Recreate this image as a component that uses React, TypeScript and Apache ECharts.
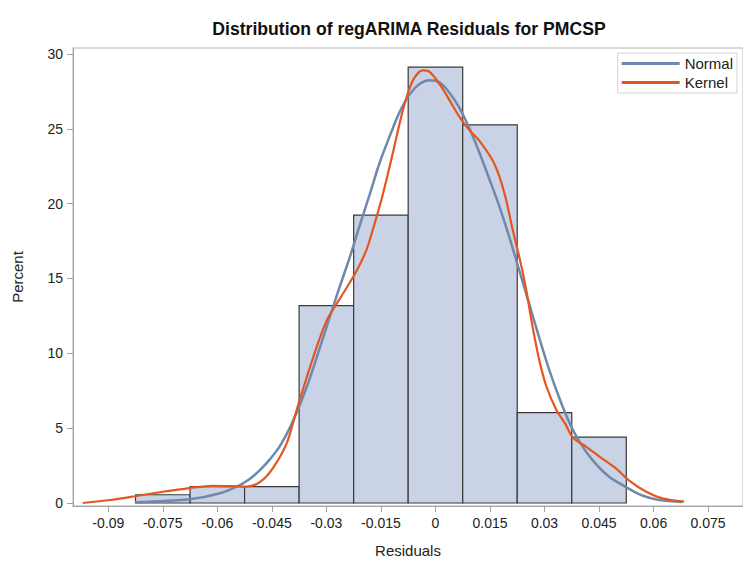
import React, { useEffect, useRef } from "react";
import * as echarts from "echarts";

// Histogram bins (midpoints) and percents
const binCenters = [-0.075, -0.06, -0.045, -0.03, -0.015, 0, 0.015, 0.03, 0.045];
const binPercents = [0.55, 1.1, 1.1, 13.19, 19.23, 29.12, 25.27, 6.04, 4.4];
const binWidth = 0.015;

// Axis ticks
const xTicks = [-0.09, -0.075, -0.06, -0.045, -0.03, -0.015, 0, 0.015, 0.03, 0.045, 0.06, 0.075];
const xTickLabels = ["-0.09", "-0.075", "-0.06", "-0.045", "-0.03", "-0.015", "0", "0.015", "0.03", "0.045", "0.06", "0.075"];
const yTicks = [0, 5, 10, 15, 20, 25, 30];

// Normal density curve
const normalX = [-0.0827, -0.0676, -0.0593, -0.0538, -0.0511, -0.0483, -0.0456, -0.0428, -0.0401, -0.0374, -0.0346, -0.0319, -0.0291, -0.0264, -0.0236, -0.0209, -0.0181, -0.0154, -0.0126, -0.0099, -0.0071, -0.0044, -0.0016, 0.0011, 0.0039, 0.0066, 0.0094, 0.0121, 0.0149, 0.0176, 0.0204, 0.0231, 0.0259, 0.0286, 0.0313, 0.0341, 0.0368, 0.0396, 0.0431, 0.0478, 0.0525, 0.0569, 0.0615, 0.0679];
const normalY = [0.05, 0.25, 0.65, 1.2, 1.6, 2.2, 2.9, 3.8, 5.0, 6.5, 8.3, 10.3, 12.4, 14.4, 16.4, 18.5, 20.6, 22.7, 24.5, 26.1, 27.3, 28.0, 28.25, 28.1, 27.4, 26.4, 25.0, 23.4, 21.6, 19.8, 17.7, 15.5, 13.2, 11.0, 8.9, 7.0, 5.4, 4.1, 2.9, 1.75, 1.05, 0.5, 0.2, 0.07];

// Kernel density curve
const kernelX = [-0.097, -0.0895, -0.0827, -0.075, -0.0676, -0.0613, -0.0557, -0.0519, -0.0483, -0.0448, -0.0409, -0.0382, -0.0354, -0.0327, -0.0299, -0.0272, -0.0244, -0.0217, -0.019, -0.0173, -0.0145, -0.0118, -0.009, -0.0063, -0.0035, -0.0016, 0.0011, 0.0039, 0.0066, 0.0094, 0.0121, 0.0157, 0.0176, 0.0195, 0.0212, 0.0231, 0.025, 0.0267, 0.0286, 0.0305, 0.0333, 0.0357, 0.0377, 0.0415, 0.0451, 0.0497, 0.0533, 0.058, 0.0624, 0.0684];
const kernelY = [0.0, 0.2, 0.45, 0.75, 1.0, 1.15, 1.13, 1.1, 1.4, 2.3, 4.0, 6.2, 8.4, 10.4, 12.2, 13.3, 14.4, 15.5, 16.9, 18.2, 20.6, 23.3, 26.2, 28.2, 28.9, 28.8, 28.0, 26.9, 25.8, 24.9, 24.2, 22.9, 21.8, 20.2, 18.3, 16.4, 14.2, 11.8, 9.5, 7.8, 6.2, 5.3, 4.4, 3.75, 3.1, 2.3, 1.5, 0.75, 0.31, 0.09];

const FONT = "'Liberation Sans', Arial, sans-serif";

export default function App() {
  const ref = useRef<HTMLDivElement>(null);
  useEffect(() => {
    if (!ref.current) return;
    const chart = echarts.init(ref.current, undefined, { renderer: "svg" });
    const histData = binCenters.map((c, i) => [c, binPercents[i]]);
    const normalData = normalX.map((x, i) => [x, normalY[i]]);
    const kernelData = kernelX.map((x, i) => [x, kernelY[i]]);
    chart.setOption({
      animation: false,
      backgroundColor: "#ffffff",
      textStyle: { fontFamily: FONT },
      title: {
        text: "Distribution of regARIMA Residuals for PMCSP",
        left: 409,
        textAlign: "center",
        top: 20,
        padding: 0,
        textStyle: { fontFamily: FONT, fontSize: 17.6, fontWeight: "bold", color: "#111" },
      },
      legend: {
        orient: "vertical",
        right: 6,
        top: 53,
        data: ["Normal", "Kernel"],
        icon: "rect",
        itemWidth: 58,
        itemHeight: 3,
        itemGap: 4,
        padding: [3, 4, 3, 4],
        borderColor: "#d4d4d4",
        borderWidth: 1,
        textStyle: { fontFamily: FONT, fontSize: 15, color: "#222" },
      },
      grid: {
        left: 73,
        top: 48,
        width: 671,
        height: 458,
        show: true,
        borderColor: "#b4b4b4",
        borderWidth: 1,
        containLabel: false,
      },
      xAxis: {
        type: "value",
        min: -0.0997,
        max: 0.0846,
        name: "Residuals",
        nameLocation: "middle",
        nameGap: 37,
        nameTextStyle: { fontFamily: FONT, fontSize: 15, color: "#222" },
        axisLine: { show: true, onZero: false, lineStyle: { color: "#a0a0a0" } },
        axisTick: { show: true, length: 6, lineStyle: { color: "#a0a0a0" }, customValues: xTicks },
        axisLabel: {
          customValues: xTicks,
          margin: 10,
          fontFamily: FONT,
          fontSize: 14,
          color: "#222",
          formatter: (v: number) => {
            const i = xTicks.findIndex((t) => Math.abs(t - v) < 1e-9);
            return i >= 0 ? xTickLabels[i] : "";
          },
        },
        splitLine: { show: false },
      },
      yAxis: {
        type: "value",
        min: -0.2,
        max: 30.4,
        name: "Percent",
        nameLocation: "middle",
        nameGap: 48,
        nameTextStyle: { fontFamily: FONT, fontSize: 15, color: "#222" },
        axisLine: { show: true, onZero: false, lineStyle: { color: "#a0a0a0" } },
        axisTick: { show: true, length: 6, lineStyle: { color: "#a0a0a0" }, customValues: yTicks },
        axisLabel: {
          customValues: yTicks,
          margin: 10,
          fontFamily: FONT,
          fontSize: 14,
          color: "#222",
        },
        splitLine: { show: false },
      },
      series: [
        {
          type: "custom",
          name: "hist",
          data: histData,
          encode: { x: 0, y: 1 },
          renderItem: (_params: any, api: any) => {
            const c = api.value(0);
            const h = api.value(1);
            const p0 = api.coord([c - binWidth / 2, h]);
            const p1 = api.coord([c + binWidth / 2, 0]);
            return {
              type: "rect",
              shape: { x: p0[0], y: p0[1], width: p1[0] - p0[0], height: p1[1] - p0[1] },
              style: { fill: "#c9d3e5", stroke: "#3a3a3a", lineWidth: 1.2 },
            };
          },
          z: 1,
        },
        {
          type: "line",
          name: "Normal",
          data: normalData,
          smooth: 0.3,
          showSymbol: false,
          symbol: "none",
          lineStyle: { color: "#6f88ab", width: 2.5 },
          itemStyle: { color: "#6f88ab" },
          z: 3,
        },
        {
          type: "line",
          name: "Kernel",
          data: kernelData,
          smooth: 0.3,
          showSymbol: false,
          symbol: "none",
          lineStyle: { color: "#e4561f", width: 2.2 },
          itemStyle: { color: "#e4561f" },
          z: 4,
        },
      ],
    });
    return () => chart.dispose();
  }, []);
  return (
    <div
      ref={ref}
      style={{ position: "fixed", left: 0, top: 0, width: 743, height: 563, background: "#fff" }}
    />
  );
}
